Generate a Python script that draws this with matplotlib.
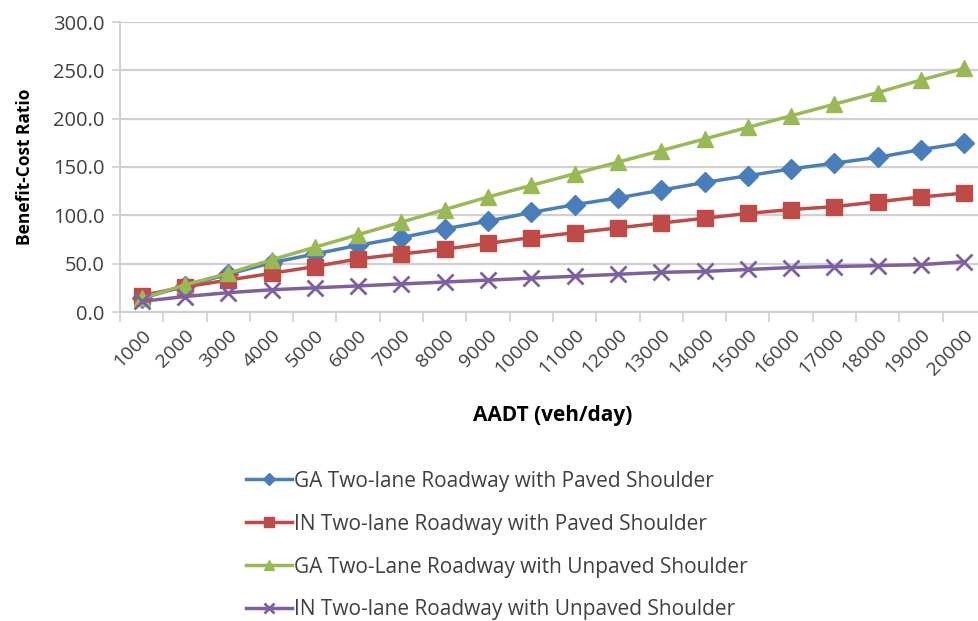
import matplotlib.pyplot as plt
from matplotlib.ticker import FormatStrFormatter

plt.rcParams["font.family"] = ["Open Sans", "DejaVu Sans"]

aadt = ["1000", "2000", "3000", "4000", "5000", "6000", "7000", "8000", "9000", "10000",
        "11000", "12000", "13000", "14000", "15000", "16000", "17000", "18000", "19000", "20000"]

ga_paved = [14, 27, 39, 51, 60, 69, 77, 86, 94, 103, 111, 118, 126, 134, 141, 148, 154, 160, 168, 175]
in_paved = [17, 26, 33, 40, 47, 55, 60, 65, 71, 77, 82, 87, 92, 97, 102, 106, 109, 114, 119, 123]
ga_unpaved = [14, 28, 40, 54, 67, 80, 93, 106, 119, 131, 143, 155, 167, 179, 191, 203, 215, 227, 240, 252]
in_unpaved = [11, 16, 20, 23, 25, 27, 29, 31, 33, 35, 37, 39, 41, 42, 44, 46, 47, 48, 49, 52]

series = [
    ("GA Two-lane Roadway with Paved Shoulder", ga_paved, "#4a7ebb", "D", 10),
    ("IN Two-lane Roadway with Paved Shoulder", in_paved, "#be4b48", "s", 11),
    ("GA Two-Lane Roadway with Unpaved Shoulder", ga_unpaved, "#98b954", "^", 12),
    ("IN Two-lane Roadway with Unpaved Shoulder", in_unpaved, "#7d60a0", "x", 12),
]

text_col = "#404040"
grid_col = "#d0d0d0"

fig = plt.figure(figsize=(9.79, 6.21), dpi=100)
ax = fig.add_axes([120 / 979, 1 - 312 / 621, 866 / 979, 290 / 621])

x = list(range(len(aadt)))
for label, vals, col, mk, ms in series:
    ax.plot(x, vals, color=col, lw=2.5, marker=mk, markersize=ms,
            markeredgewidth=2 if mk == "x" else 1, markeredgecolor=col,
            label=label, clip_on=False, zorder=3)

ax.set_xlim(-0.5, len(aadt) - 0.5)
ax.set_ylim(0, 300)
ax.set_yticks(range(0, 301, 50))
ax.yaxis.set_major_formatter(FormatStrFormatter("%.1f"))
ax.grid(axis="y", color=grid_col, lw=1.6)
ax.set_axisbelow(True)

# tick marks between categories, labels at the centres
ax.set_xticks([i - 0.5 for i in range(len(aadt) + 1)])
ax.set_xticklabels([])
ax.set_xticks(x, minor=True)
ax.set_xticklabels(aadt, minor=True, rotation=45, ha="right", rotation_mode="anchor",
                   fontsize=14, color=text_col)
ax.tick_params(axis="x", which="major", length=7, color=grid_col, width=1.2)
ax.tick_params(axis="x", which="minor", length=0, pad=10)
ax.tick_params(axis="y", length=6, color=grid_col, width=1.2, labelsize=14.5,
               labelcolor=text_col, pad=5)

for side in ("top", "right"):
    ax.spines[side].set_visible(False)
for side in ("left", "bottom"):
    ax.spines[side].set_color(grid_col)
    ax.spines[side].set_linewidth(1.4)

ax.set_ylabel("Benefit-Cost Ratio", fontsize=12.5, fontweight="bold", color="black", labelpad=14)
fig.text(553 / 979, 1 - 415 / 621, "AADT (veh/day)", ha="center", va="center",
         fontsize=15, fontweight="bold", color="black")

fig.legend(loc="upper left", bbox_to_anchor=(227 / 979, 1 - 452 / 621), frameon=False,
           fontsize=15, labelcolor=text_col, handlelength=2.2, handletextpad=0.1,
           labelspacing=1.05, markerscale=0.6)

fig.savefig("out.png", dpi=100)
